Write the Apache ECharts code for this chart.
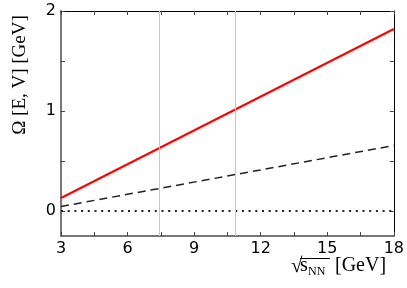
<!DOCTYPE html>
<html>
<head>
<meta charset="utf-8">
<script src="https://cdn.jsdelivr.net/npm/echarts@6/dist/echarts.min.js"></script>
<style>html,body{margin:0;padding:0;background:#fff}#c{width:407px;height:288px}</style>
</head>
<body>
<div id="c"></div>
<script>
// Data
var xRange = [3, 18];
var xTicks = [3, 6, 9, 12, 15, 18];
var yTickLabels = [0, 1, 2];
var yTickMarks = [0, 0.5, 1, 1.5, 2];
var redLine = [[3, 0.13], [18, 1.82]];
var dashedLine = [[3, 0.045], [18, 0.655]];
var dottedLine = [[3, 0], [18, 0]];
var vLines = [7.45, 10.85];

var chart = echarts.init(document.getElementById('c'), null, {renderer: 'canvas'});
var sansFont = 'DejaVu Sans';
var serifFont = 'Liberation Serif';

var option = {
  animation: false,
  backgroundColor: '#fff',
  grid: {left: 61, right: 13, top: 11, bottom: 52, containLabel: false},
  xAxis: [{
    type: 'value', min: xRange[0], max: xRange[1], interval: 3,
    position: 'bottom',
    axisLine: {show: true, onZero: false, lineStyle: {color: '#777', width: 2}},
    axisTick: {show: true, inside: true, length: 4, lineStyle: {color: '#444', width: 1}},
    minorTick: {show: true, splitNumber: 2, length: 4, lineStyle: {color: '#444', width: 1}},
    axisLabel: {show: true, color: '#000', fontFamily: sansFont, fontSize: 16, margin: 5,
      customValues: xTicks},
    splitLine: {show: false}
  }, {
    type: 'value', min: xRange[0], max: xRange[1], interval: 3,
    position: 'top',
    axisLine: {show: true, onZero: false, lineStyle: {color: '#000', width: 1}},
    axisTick: {show: true, inside: true, length: 4, lineStyle: {color: '#444', width: 1}},
    minorTick: {show: true, splitNumber: 2, length: 4, lineStyle: {color: '#444', width: 1}},
    axisLabel: {show: false},
    splitLine: {show: false}
  }],
  yAxis: [{
    type: 'value', min: -0.25, max: 2,
    position: 'left',
    axisLine: {show: true, onZero: false, lineStyle: {color: '#777', width: 2}},
    axisTick: {show: true, inside: true, length: 4, customValues: yTickMarks, lineStyle: {color: '#444', width: 1}},
    axisLabel: {show: true, color: '#000', fontFamily: sansFont, fontSize: 16, margin: 5,
      customValues: yTickLabels},
    splitLine: {show: false}
  }, {
    type: 'value', min: -0.25, max: 2,
    position: 'right',
    axisLine: {show: true, onZero: false, lineStyle: {color: '#000', width: 1}},
    axisTick: {show: true, inside: true, length: 4, customValues: yTickMarks, lineStyle: {color: '#444', width: 1}},
    axisLabel: {show: false},
    splitLine: {show: false}
  }],
  series: [{
    type: 'line', data: dottedLine, symbol: 'none', silent: true,
    lineStyle: {color: '#222', width: 2, type: [2, 4.7]},
    markLine: {
      silent: true, symbol: 'none', label: {show: false},
      lineStyle: {color: '#c8c8c8', width: 1, type: 'solid'},
      data: vLines.map(function (v) { return {xAxis: v}; })
    }
  }, {
    type: 'line', data: dashedLine, symbol: 'none', silent: true,
    lineStyle: {color: '#222', width: 1.5, type: [8, 5]}
  }, {
    type: 'line', data: redLine, symbol: 'none', silent: true,
    lineStyle: {color: '#ff0000', width: 2}
  }],
  graphic: [{
    type: 'text', x: 20, y: 75, rotation: Math.PI / 2,
    style: {text: 'Ω [E, V] [GeV]', font: '19px "' + serifFont + '"', fill: '#000', align: 'center', verticalAlign: 'middle'}
  }, {
    type: 'text', x: 291, y: 266,
    style: {text: '√', font: '21px "' + serifFont + '"', fill: '#000', align: 'left', verticalAlign: 'middle'}
  }, {
    type: 'text', x: 300, y: 266,
    style: {text: 's', font: '20px "' + serifFont + '"', fill: '#000', align: 'left', verticalAlign: 'middle'}
  }, {
    type: 'text', x: 308, y: 272,
    style: {text: 'NN', font: '12px "' + serifFont + '"', fill: '#000', align: 'left', verticalAlign: 'middle'}
  }, {
    type: 'line', shape: {x1: 300, y1: 258.5, x2: 330, y2: 258.5},
    style: {stroke: '#000', lineWidth: 1}
  }, {
    type: 'text', x: 335, y: 266,
    style: {text: '[GeV]', font: '20px "' + serifFont + '"', fill: '#000', align: 'left', verticalAlign: 'middle'}
  }]
};
chart.setOption(option);
</script>
</body>
</html>
